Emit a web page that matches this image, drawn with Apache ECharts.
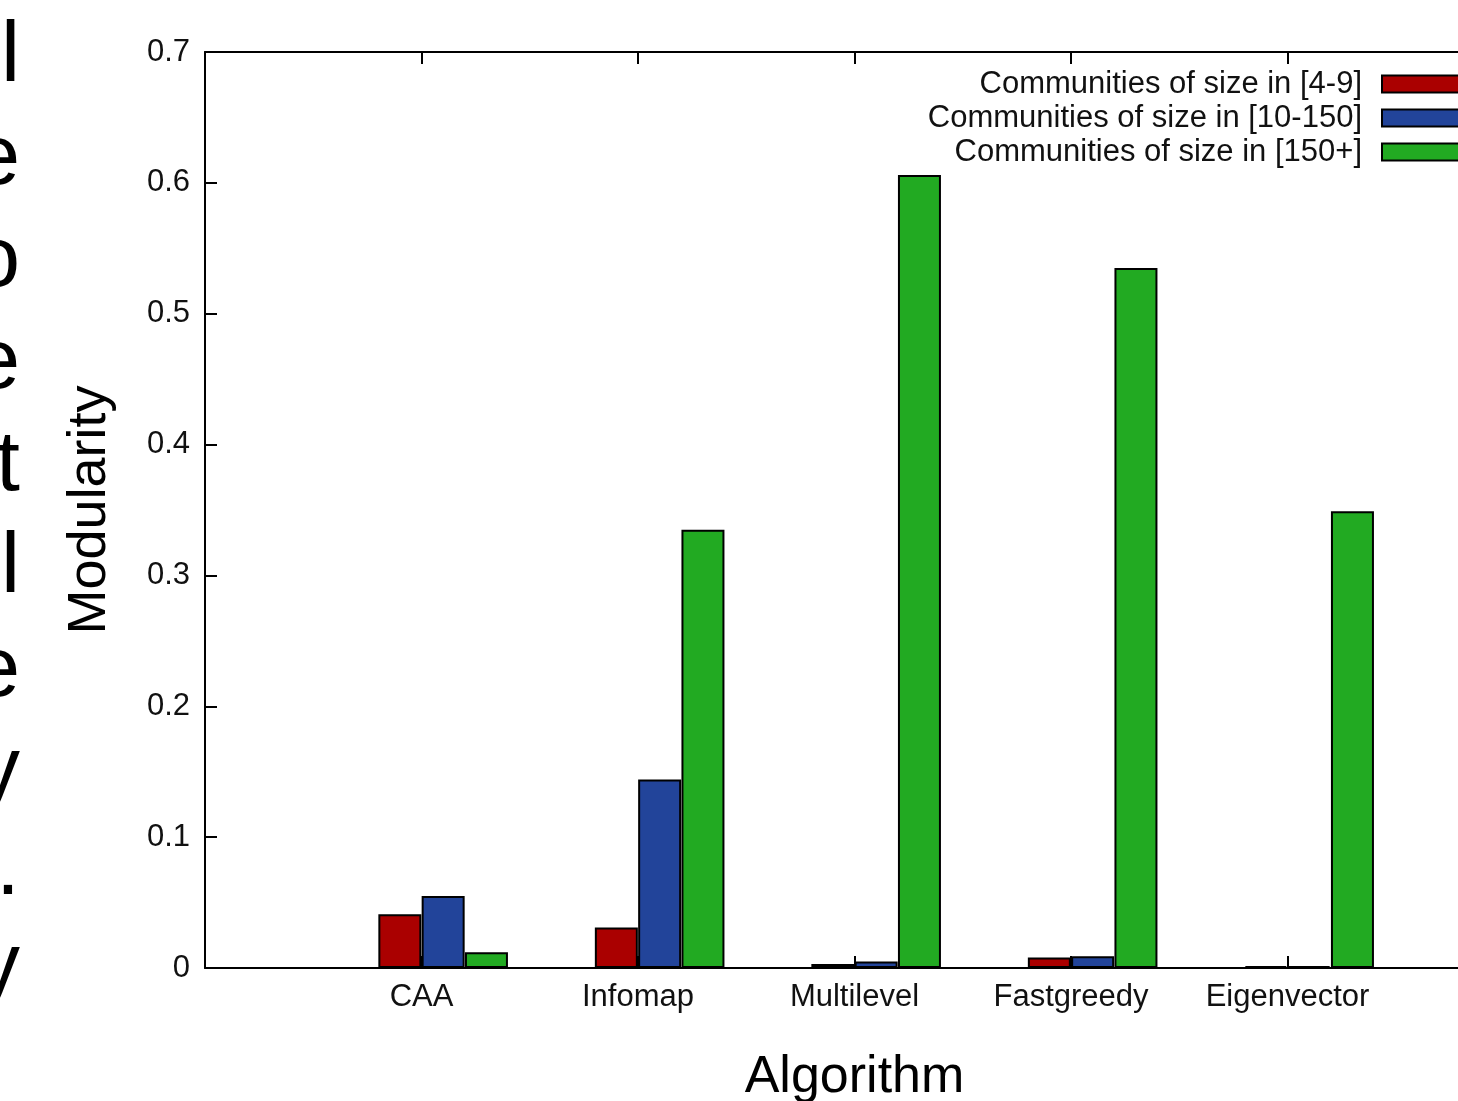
<!DOCTYPE html>
<html>
<head>
<meta charset="utf-8">
<script src="https://cdn.jsdelivr.net/npm/echarts@6/dist/echarts.min.js"></script>
<style>
  html, body { margin: 0; padding: 0; background: #fff; }
  #chart { width: 1458px; height: 1101px; }
</style>
</head>
<body>
<div id="chart"></div>
<script>
var categories = ['CAA', 'Infomap', 'Multilevel', 'Fastgreedy', 'Eigenvector']
var seriesNames = ['Communities of size in [4-9]', 'Communities of size in [10-150]', 'Communities of size in [150+]']
var small = [0.041, 0.031, 0.003, 0.008, 0.0015]
var medium = [0.055, 0.144, 0.005, 0.009, 0.0015]
var large = [0.012, 0.335, 0.606, 0.535, 0.349]
var colors = ['#aa0000', '#22449a', '#22aa22']
// cropped paragraph text at the left edge of the page
var sideChars = ['l', 'e', 'o', 'e', 't', 'l', 'e', 'y', '.', 'y']
var sideBaselines = [87, 190, 292, 394, 496, 598, 702, 802, 900, 998]

var font = 'Liberation Sans, Arial, sans-serif'
var myChart = echarts.init(document.getElementById('chart'))

// gnuplot-style cluster: bars sit right of the tick (red left of it)
var offsets = [-0.1, 0.1, 0.3]
function build(values, k) {
  return values.map(function (v, i) { return [i + 1 + offsets[k], v] })
}

var series = [small, medium, large].map(function (vals, k) {
  return {
    name: seriesNames[k],
    type: 'bar',
    barWidth: 43,
    barGap: '-100%',
    data: build(vals, k),
    itemStyle: { color: colors[k], borderColor: '#000', borderWidth: 2 },
    emphasis: { disabled: true }
  }
})

var graphics = sideChars.map(function (c, i) {
  return {
    type: 'text',
    x: 20,
    y: sideBaselines[i] - 30,
    style: { text: c, font: '86px ' + font, fill: '#000', textAlign: 'right', textVerticalAlign: 'middle' }
  }
})

var option = {
  animation: false,
  backgroundColor: '#fff',
  graphic: graphics,
  grid: { left: 205, top: 52, width: 1299, height: 916, containLabel: false, outerBoundsMode: 'none' },
  legend: {
    orient: 'vertical',
    right: -20,
    top: 62,
    align: 'right',
    icon: 'rect',
    itemWidth: 90,
    itemHeight: 17,
    itemGap: 0,
    selectedMode: false,
    data: seriesNames,
    textStyle: { fontSize: 31, fontFamily: font, color: '#111', lineHeight: 34, padding: [0, 15, 0, 0] }
  },
  xAxis: [{
    type: 'value',
    min: 0, max: 6, interval: 1,
    name: 'Algorithm',
    nameLocation: 'middle',
    nameGap: 84,
    nameTextStyle: { fontSize: 52, fontFamily: font, color: '#000' },
    axisLine: { show: true, lineStyle: { color: '#000', width: 2 } },
    axisTick: { show: true, inside: true, length: 12, lineStyle: { color: '#000', width: 2 } },
    splitLine: { show: false },
    axisLabel: {
      fontSize: 31, fontFamily: font, color: '#111', margin: 14,
      formatter: function (v) { return categories[v - 1] || '' }
    }
  }, {
    type: 'value',
    position: 'top',
    min: 0, max: 6, interval: 1,
    axisLine: { show: true, lineStyle: { color: '#000', width: 2 } },
    axisTick: { show: true, inside: true, length: 12, lineStyle: { color: '#000', width: 2 } },
    splitLine: { show: false },
    axisLabel: { show: false }
  }],
  yAxis: {
    type: 'value',
    min: 0, max: 0.7, interval: 0.1,
    name: 'Modularity',
    nameLocation: 'middle',
    nameGap: 88,
    nameTextStyle: { fontSize: 54, fontFamily: font, color: '#000' },
    axisLine: { show: true, lineStyle: { color: '#000', width: 2 } },
    axisTick: { show: true, inside: true, length: 12, lineStyle: { color: '#000', width: 2 } },
    splitLine: { show: false },
    axisLabel: { fontSize: 31, fontFamily: font, color: '#111', margin: 15 }
  },
  series: series
}

myChart.setOption(option)
</script>
</body>
</html>
